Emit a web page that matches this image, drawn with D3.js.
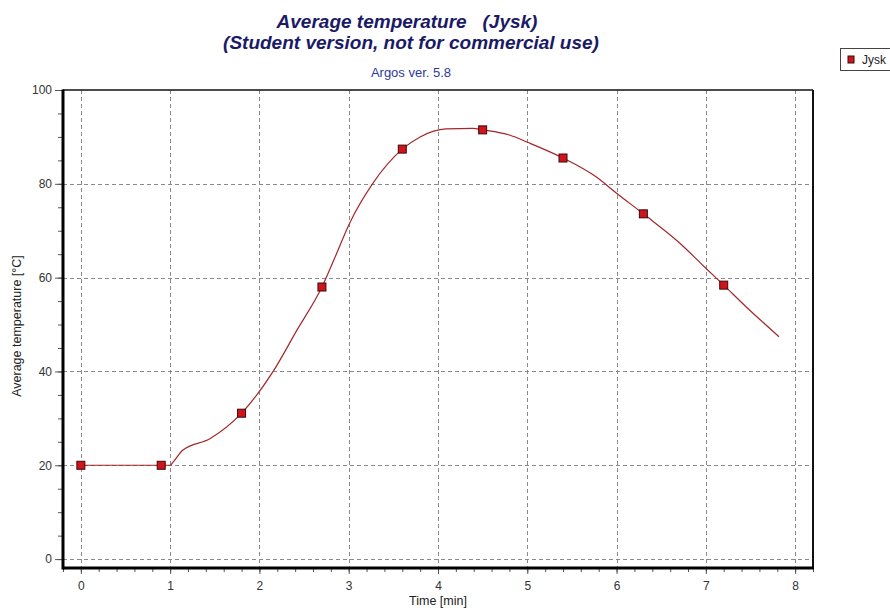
<!DOCTYPE html>
<html>
<head>
<meta charset="utf-8">
<script src="https://cdn.jsdelivr.net/npm/d3@7"></script>
<style>
  html, body { margin: 0; padding: 0; background: #fff; }
  svg { display: block; font-family: "Liberation Sans", Arial, sans-serif; }
</style>
</head>
<body>
<svg id="chart" width="890" height="611"></svg>
<script>
// Measured points (markers)
const sampleTime = [0, 0.9, 1.8, 2.7, 3.6, 4.5, 5.4, 6.3, 7.2];
const sampleTemp = [20, 20, 31.1, 58.0, 87.4, 91.5, 85.5, 73.6, 58.4];

// Continuous temperature trace
const traceTime = [0, 1.0, 1.03, 1.14, 1.45, 1.8, 2.15, 2.42, 2.7, 2.85, 3.01, 3.27, 3.6, 3.8, 4.09, 4.39, 4.5, 4.8, 5.01, 5.4, 5.77, 6.0, 6.3, 6.7, 7.0, 7.2, 7.45, 7.82];
const traceTemp = [20, 20, 20.6, 23.2, 25.7, 31.1, 39.9, 48.8, 58.0, 64.5, 71.6, 80.1, 87.4, 90.0, 91.7, 91.8, 91.5, 90.4, 88.8, 85.5, 81.5, 78.0, 73.6, 67.5, 62.0, 58.4, 53.8, 47.4];

const xTicks = [0, 1, 2, 3, 4, 5, 6, 7, 8];
const yTicks = [0, 20, 40, 60, 80, 100];

const titleLines = ["Average temperature   (Jysk)", "(Student version, not for commercial use)"];
const subtitle = "Argos ver. 5.8";
const xTitle = "Time [min]";
const yTitle = "Average temperature [°C]";
const seriesName = "Jysk";

const svg = d3.select("#chart");
const plot = { left: 63, right: 813, top: 90, bottom: 568 };

const x = d3.scaleLinear().domain([-0.2, 8.2]).range([plot.left, plot.right]);
const y = d3.scaleLinear().domain([-1.9, 100]).range([plot.bottom, plot.top]);

// Titles
svg.append("text")
  .attr("x", 407).attr("y", 28)
  .attr("text-anchor", "middle")
  .attr("font-size", 19).attr("font-weight", "bold").attr("font-style", "italic")
  .attr("fill", "#1a1a66")
  .style("white-space", "pre")
  .text(titleLines[0]);
svg.append("text")
  .attr("x", 411).attr("y", 49)
  .attr("text-anchor", "middle")
  .attr("font-size", 19).attr("font-weight", "bold").attr("font-style", "italic")
  .attr("fill", "#1a1a66")
  .text(titleLines[1]);
svg.append("text")
  .attr("x", 411).attr("y", 77)
  .attr("text-anchor", "middle")
  .attr("font-size", 13)
  .attr("fill", "#2b3a9c")
  .text(subtitle);

// Grid
const grid = svg.append("g").attr("stroke", "#8a8a8a").attr("stroke-width", 1).attr("stroke-dasharray", "4,3");
grid.selectAll("line.v").data(xTicks).join("line")
  .attr("x1", d => Math.round(x(d)) + 0.5).attr("x2", d => Math.round(x(d)) + 0.5)
  .attr("y1", plot.top).attr("y2", plot.bottom);
grid.selectAll("line.h").data(yTicks.filter(d => d < 100)).join("line")
  .attr("y1", d => Math.round(y(d)) + 0.5).attr("y2", d => Math.round(y(d)) + 0.5)
  .attr("x1", plot.left).attr("x2", plot.right);

// Axes
const xMinor = d3.range(-0.2, 8.21, 0.2).map(v => +v.toFixed(1));
const yMinor = d3.range(0, 100.1, 5);

const xAxis = svg.append("g").attr("transform", `translate(0,${plot.bottom})`);
xAxis.call(d3.axisBottom(x).tickValues(xMinor).tickSize(4).tickFormat(""));
xAxis.call(g => g.select(".domain").remove());
const xAxisMajor = svg.append("g").attr("transform", `translate(0,${plot.bottom})`)
  .call(d3.axisBottom(x).tickValues(xTicks).tickSize(6).tickPadding(7).tickFormat(d3.format("d")));
xAxisMajor.select(".domain").remove();

const yAxis = svg.append("g").attr("transform", `translate(${plot.left},0)`);
yAxis.call(d3.axisLeft(y).tickValues(yMinor).tickSize(5).tickFormat(""));
yAxis.call(g => g.select(".domain").remove());
const yAxisMajor = svg.append("g").attr("transform", `translate(${plot.left},0)`)
  .call(d3.axisLeft(y).tickValues(yTicks).tickSize(8).tickPadding(3).tickFormat(d3.format("d")));
yAxisMajor.select(".domain").remove();

svg.selectAll(".tick line").attr("stroke", "#555");
svg.selectAll(".tick text").attr("font-size", 12).attr("fill", "#333")
  .attr("font-family", "Liberation Sans, Arial, sans-serif");

// Frame
svg.append("line").attr("x1", plot.left).attr("x2", plot.right).attr("y1", plot.top).attr("y2", plot.top)
  .attr("stroke", "#111").attr("stroke-width", 1.3);
svg.append("line").attr("x1", plot.right).attr("x2", plot.right).attr("y1", plot.top).attr("y2", plot.bottom)
  .attr("stroke", "#111").attr("stroke-width", 2);
svg.append("line").attr("x1", plot.left).attr("x2", plot.left).attr("y1", plot.top - 0.5).attr("y2", plot.bottom + 1.5)
  .attr("stroke", "#000").attr("stroke-width", 3);
svg.append("line").attr("x1", plot.left).attr("x2", plot.right + 1).attr("y1", plot.bottom).attr("y2", plot.bottom)
  .attr("stroke", "#000").attr("stroke-width", 3);

// Axis titles
svg.append("text")
  .attr("x", x(4)).attr("y", 605)
  .attr("text-anchor", "middle").attr("font-size", 12.5).attr("fill", "#222")
  .text(xTitle);
svg.append("text")
  .attr("transform", `translate(21,${(plot.top + plot.bottom) / 2 - 3}) rotate(-90)`)
  .attr("text-anchor", "middle").attr("font-size", 12.5).attr("fill", "#222")
  .text(yTitle);

// Trace
const line = d3.line()
  .x(d => x(d[0])).y(d => y(d[1]))
  .curve(d3.curveMonotoneX);
svg.append("path")
  .datum(d3.zip(traceTime, traceTemp))
  .attr("fill", "none").attr("stroke", "#a3262a").attr("stroke-width", 1.2)
  .attr("d", line);

// Markers
const ms = 8;
svg.append("g").selectAll("rect").data(d3.zip(sampleTime, sampleTemp)).join("rect")
  .attr("x", d => x(d[0]) - ms / 2).attr("y", d => y(d[1]) - ms / 2)
  .attr("width", ms).attr("height", ms)
  .attr("fill", "#d0141c").attr("stroke", "#3a0a0a").attr("stroke-width", 1);

// Legend
const legend = svg.append("g");
legend.append("rect").attr("x", 840.5).attr("y", 48.5).attr("width", 60).attr("height", 22)
  .attr("fill", "#fff").attr("stroke", "#444").attr("stroke-width", 1);
legend.append("rect").attr("x", 848).attr("y", 56).attr("width", 6).attr("height", 7)
  .attr("fill", "#d0141c").attr("stroke", "#3a0a0a").attr("stroke-width", 1);
legend.append("text").attr("x", 862).attr("y", 64)
  .attr("font-size", 12).attr("fill", "#222").text(seriesName);
</script>
</body>
</html>
